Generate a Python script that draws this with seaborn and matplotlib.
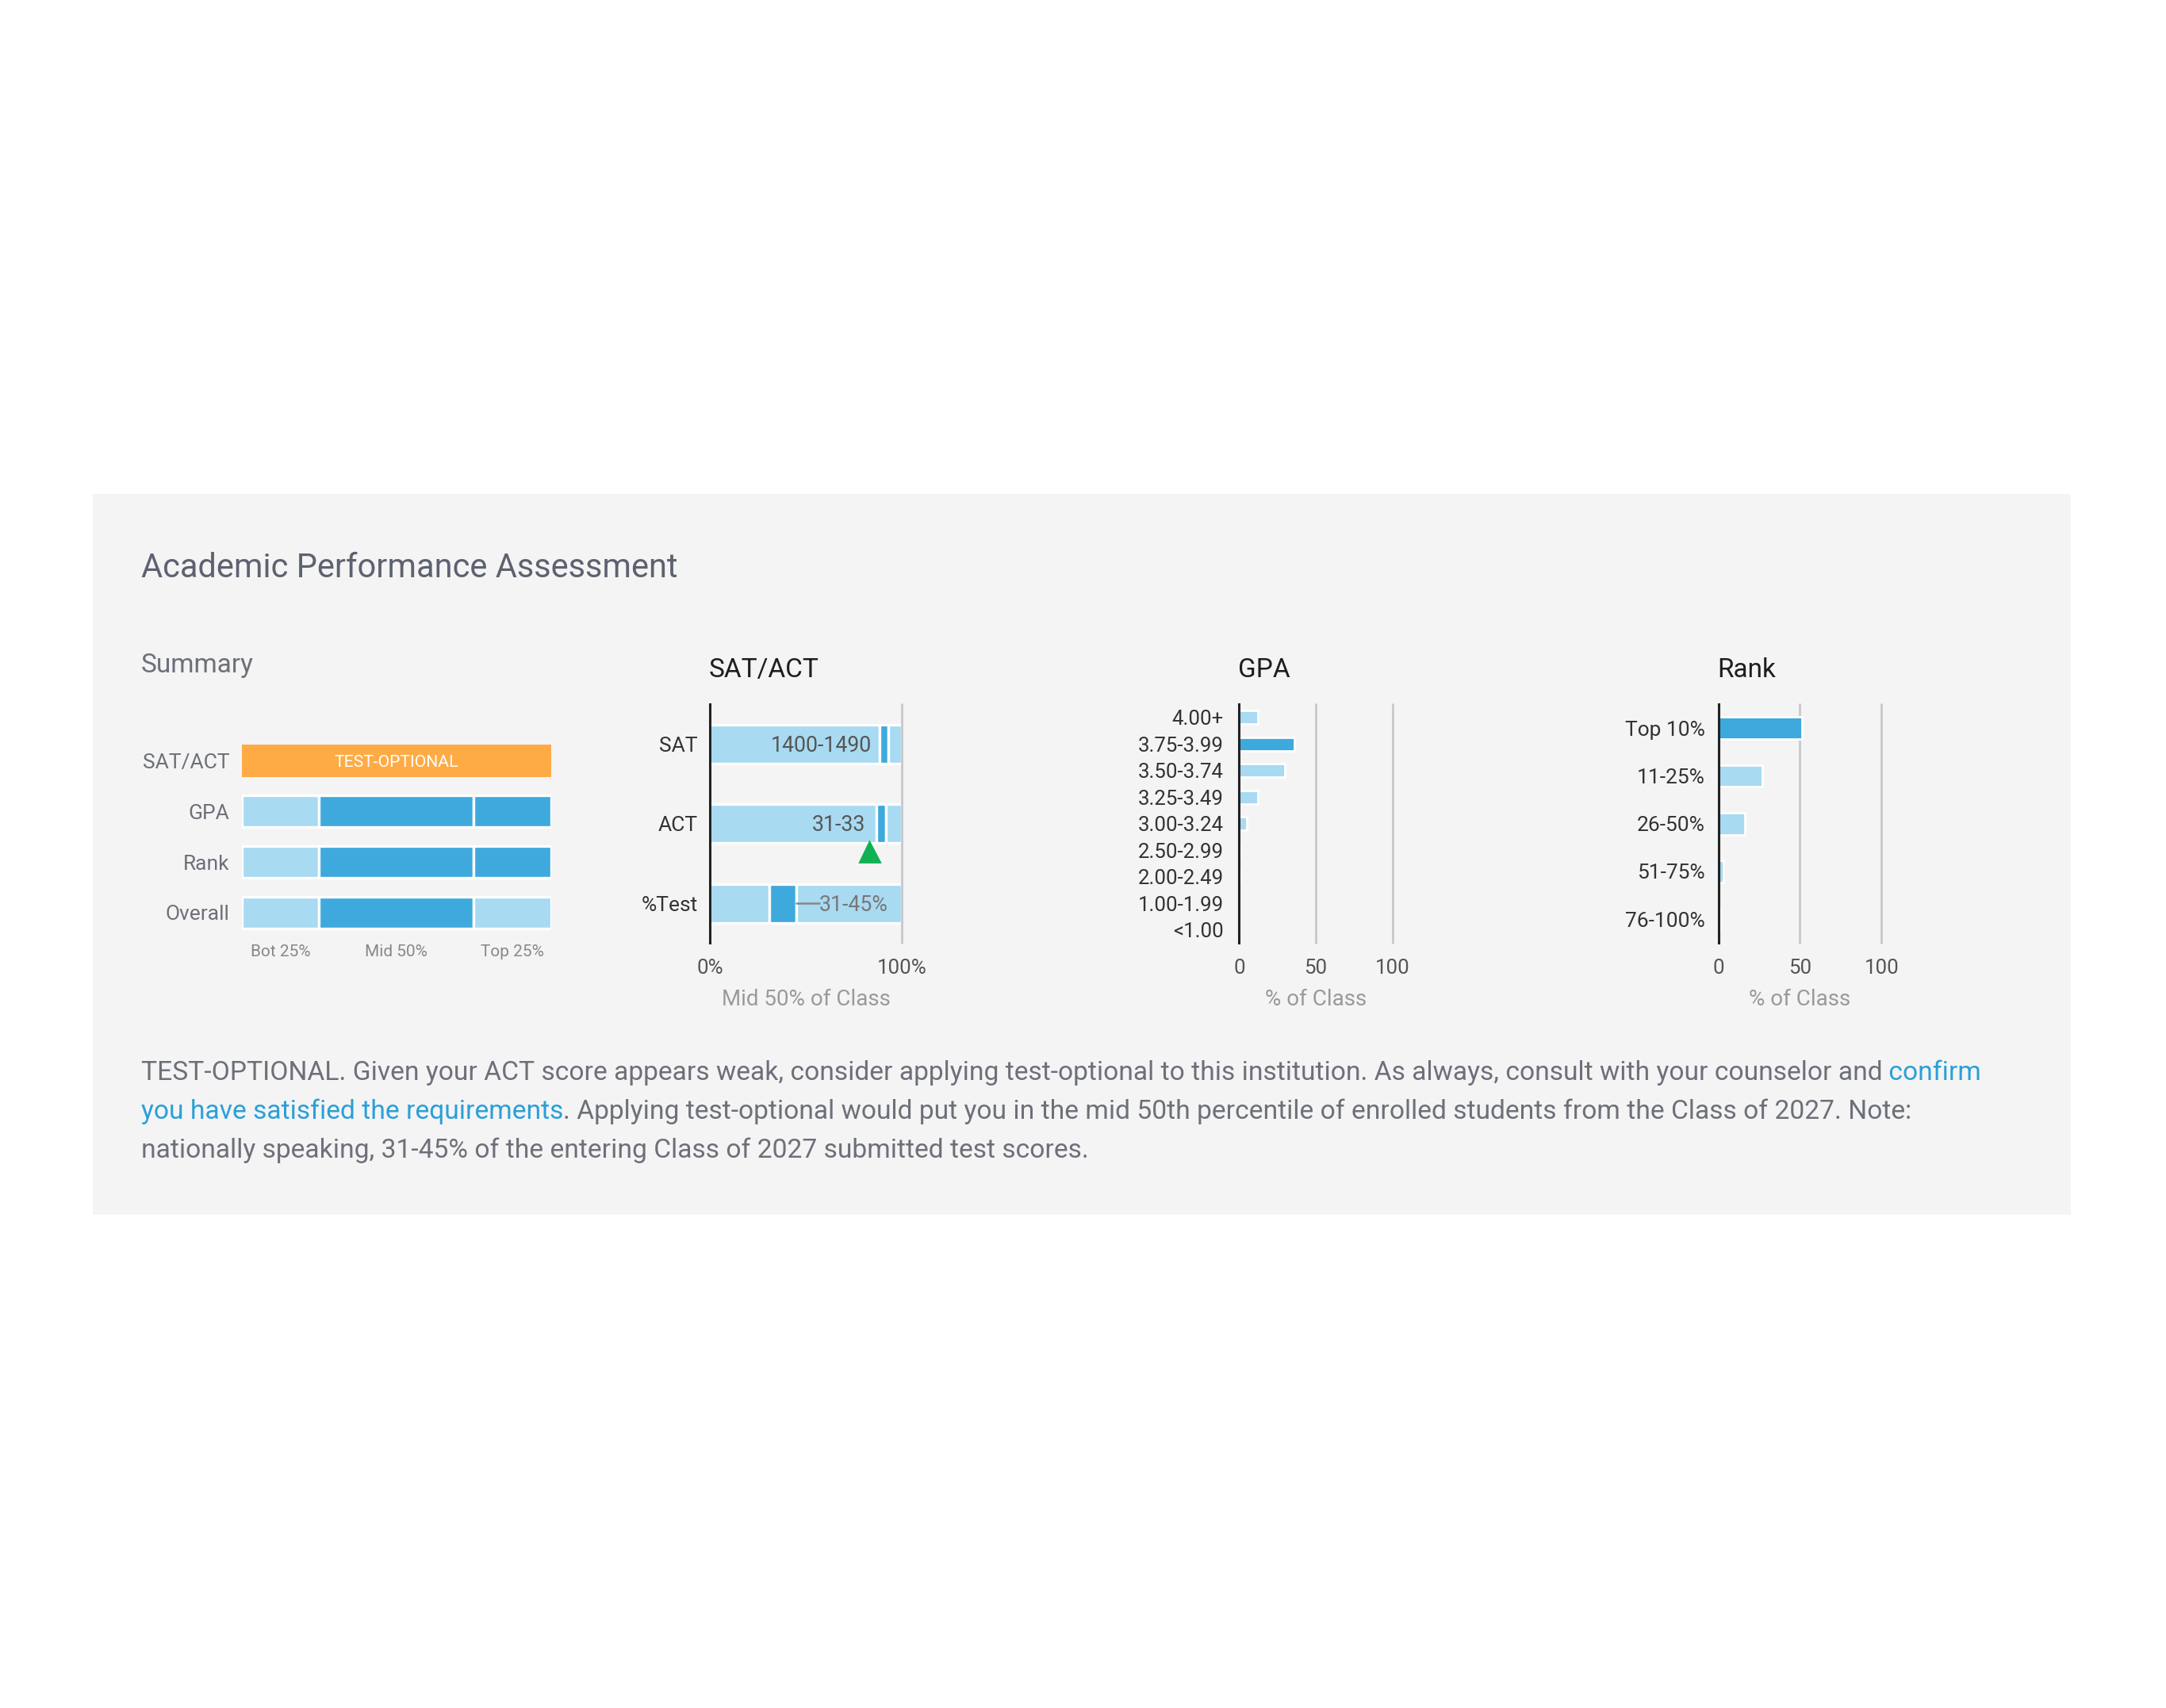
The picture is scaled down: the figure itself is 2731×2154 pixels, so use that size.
import numpy as np
import pandas as pd
import matplotlib.pyplot as plt
import seaborn as sns
from matplotlib.patches import Rectangle

# summary panel
summary_rows = ['SAT/ACT', 'GPA', 'Rank', 'Overall']
summary_ticks = ['Bot 25%', 'Mid 50%', 'Top 25%']
summary_bands = [25, 50, 25]
summary_shade = [None, ['light', 'dark', 'dark'], ['light', 'dark', 'dark'], ['light', 'dark', 'light']]
summary_flag = 'TEST-OPTIONAL'

# SAT/ACT panel (% position of mid 50% band)
test_rows = ['SAT', 'ACT', '%Test']
test_lo = [88.5, 86.5, 31]
test_hi = [93, 91.5, 45]
test_text = ['1400-1490', '31-33', '31-45%']
act_you = 83

# GPA panel
gpa_bins = ['4.00+', '3.75-3.99', '3.50-3.74', '3.25-3.49', '3.00-3.24',
            '2.50-2.99', '2.00-2.49', '1.00-1.99', '<1.00']
gpa_pct = [12, 36, 30, 12, 5, 1, 1, 0, 0]
gpa_you = '3.75-3.99'

# Rank panel
rank_bins = ['Top 10%', '11-25%', '26-50%', '51-75%', '76-100%']
rank_pct = [51, 27, 16, 3, 1]
rank_you = 'Top 10%'

LIGHT = '#a8daf2'
DARK = '#3ea9dc'
ORANGE = '#ffab45'
GREEN = '#10b153'
PANEL = '#f4f4f4'
GRID = '#c8c8c8'
GREY_TXT = '#6d7079'
LINK = '#2b9fd8'

sns.set_style('white')
plt.rcParams['font.family'] = ['Roboto', 'DejaVu Sans']

W, H = 1568, 1237
fig = plt.figure(figsize=(13.655, 10.77), dpi=200)

bg = fig.add_axes([0, 0, 1, 1], zorder=-5)
bg.set_xlim(0, W)
bg.set_ylim(H, 0)
bg.axis('off')
bg.add_patch(Rectangle((67, 358), 1432, 522, facecolor=PANEL, edgecolor='none'))


def panel_axes(x0, x1, y0, y1):
    ax = fig.add_axes([x0 / W, 1 - y1 / H, (x1 - x0) / W, (y1 - y0) / H])
    ax.set_facecolor('none')
    for s in ax.spines.values():
        s.set_visible(False)
    return ax


bg.text(102, 411.5, 'Academic Performance Assessment', fontsize=15.0, color='#5d6270', va='center')
bg.text(102, 482, 'Summary', fontsize=12, color=GREY_TXT, va='center')

# ---- summary
ax = panel_axes(175, 399, 532.7, 679.3)
for i, row in enumerate(summary_rows):
    if summary_shade[i] is None:
        ax.barh(i, 100, left=0, height=0.63, color=ORANGE, edgecolor='none')
        ax.text(50, i + 0.03, summary_flag, color='white', fontsize=7.6, ha='center', va='center')
        continue
    left = 0
    for band, shade in zip(summary_bands, summary_shade[i]):
        ax.barh(i, band, left=left, height=0.63, color=DARK if shade == 'dark' else LIGHT,
                edgecolor='white', linewidth=1.2)
        left += band
ax.set_xlim(0, 100)
ax.set_ylim(3.5, -0.5)
ax.set_yticks(range(len(summary_rows)), summary_rows)
ax.set_xticks(np.cumsum(summary_bands) - np.array(summary_bands) / 2, summary_ticks)
ax.tick_params(axis='y', length=0, pad=5.5, labelsize=9.5, labelcolor=GREY_TXT)
ax.tick_params(axis='x', length=0, pad=3, labelsize=7.5, labelcolor='#888888')


def style_chart(ax, title, x0):
    ax.spines['left'].set_visible(True)
    ax.spines['left'].set_color('#222222')
    ax.spines['left'].set_linewidth(1.1)
    ax.set_ylabel('')
    ax.tick_params(axis='both', length=0)
    ax.tick_params(axis='x', pad=7, labelsize=9.3, labelcolor='#555555')
    bg.text(x0, 485.5, title, fontsize=12, color='#1e1e1e', va='center')


# ---- SAT/ACT
ax = panel_axes(514, 653, 510, 683)
for i in range(len(test_rows)):
    segs = [(0, test_lo[i], LIGHT), (test_lo[i], test_hi[i], DARK), (test_hi[i], 100, LIGHT)]
    for a, b, c in segs:
        ax.barh(i, b - a, left=a, height=0.49, color=c, edgecolor='white', linewidth=1.2)
ax.text(test_lo[0] - 4.5, 0.02, test_text[0], ha='right', va='center', fontsize=9.6, color='#555555')
ax.text(test_lo[1] - 5.4, 1.02, test_text[1], ha='right', va='center', fontsize=9.6, color='#555555')
ax.plot([test_hi[2], 57], [2, 2], color='#888888', lw=0.9)
ax.text(57, 2.02, test_text[2], ha='left', va='center', fontsize=9.6, color='#777777')
ax.plot([act_you], [1.35], marker='^', color=GREEN, markersize=9, linestyle='none')
ax.axvline(100, color=GRID, lw=1.0, clip_on=False)
ax.set_xlim(0, 100)
ax.set_ylim(2.5, -0.5)
ax.set_yticks(range(len(test_rows)), test_rows)
ax.set_xticks([0, 100], ['0%', '100%'])
style_chart(ax, 'SAT/ACT', 513)
ax.tick_params(axis='y', pad=5.5, labelsize=9.5, labelcolor='#333333')
ax.set_xlabel('Mid 50% of Class', fontsize=10, color='#9a9a9a', labelpad=5)

# ---- GPA
gpa_df = pd.DataFrame({'bin': gpa_bins, 'pct': gpa_pct,
                       'grp': ['you' if b == gpa_you else 'other' for b in gpa_bins]})
ax = panel_axes(897, 1008, 510, 683)
sns.barplot(data=gpa_df, x='pct', y='bin', hue='grp', palette={'you': DARK, 'other': LIGHT},
            dodge=False, width=0.5, legend=False, ax=ax, saturation=1)
for v in (50, 100):
    ax.axvline(v, color=GRID, lw=1.0, clip_on=False, zorder=0)
ax.set_xlim(0, 100)
ax.set_ylim(8.5, -0.5)
ax.set_xticks([0, 50, 100], ['0', '50', '100'])
style_chart(ax, 'GPA', 896)
ax.tick_params(axis='y', pad=7, labelsize=9.3, labelcolor='#333333')
ax.set_xlabel('% of Class', fontsize=10, color='#9a9a9a', labelpad=5)

# ---- Rank
rank_df = pd.DataFrame({'bin': rank_bins, 'pct': rank_pct,
                        'grp': ['you' if b == rank_you else 'other' for b in rank_bins]})
ax = panel_axes(1244, 1362, 510, 683)
sns.barplot(data=rank_df, x='pct', y='bin', hue='grp', palette={'you': DARK, 'other': LIGHT},
            dodge=False, width=0.46, legend=False, ax=ax, saturation=1)
for v in (50, 100):
    ax.axvline(v, color=GRID, lw=1.0, clip_on=False, zorder=0)
ax.set_xlim(0, 100)
ax.set_ylim(4.5, -0.5)
ax.set_xticks([0, 50, 100], ['0', '50', '100'])
style_chart(ax, 'Rank', 1243)
ax.tick_params(axis='y', pad=6, labelsize=9.5, labelcolor='#333333')
ax.set_xlabel('% of Class', fontsize=10, color='#9a9a9a', labelpad=5)

# ---- note paragraph
fs = 12.1
t = bg.text(102, 777, 'TEST-OPTIONAL. Given your ACT score appears weak, consider applying test-optional '
            'to this institution. As always, consult with your counselor and',
            color=GREY_TXT, va='center', fontsize=fs)
bg.annotate(' confirm', xy=(1, 0), xycoords=t, va='bottom', ha='left', color=LINK, fontsize=fs)
t = bg.text(102, 805, 'you have satisfied the requirements', color=LINK, va='center', fontsize=fs)
bg.annotate('. Applying test-optional would put you in the mid 50th percentile of enrolled students '
            'from the Class of 2027. Note:', xy=(1, 0), xycoords=t, va='bottom', ha='left',
            color=GREY_TXT, fontsize=fs)
bg.text(102, 833, 'nationally speaking, 31-45% of the entering Class of 2027 submitted test scores.',
        color=GREY_TXT, va='center', fontsize=fs)

fig.savefig('out.png', dpi=200, facecolor='white')
